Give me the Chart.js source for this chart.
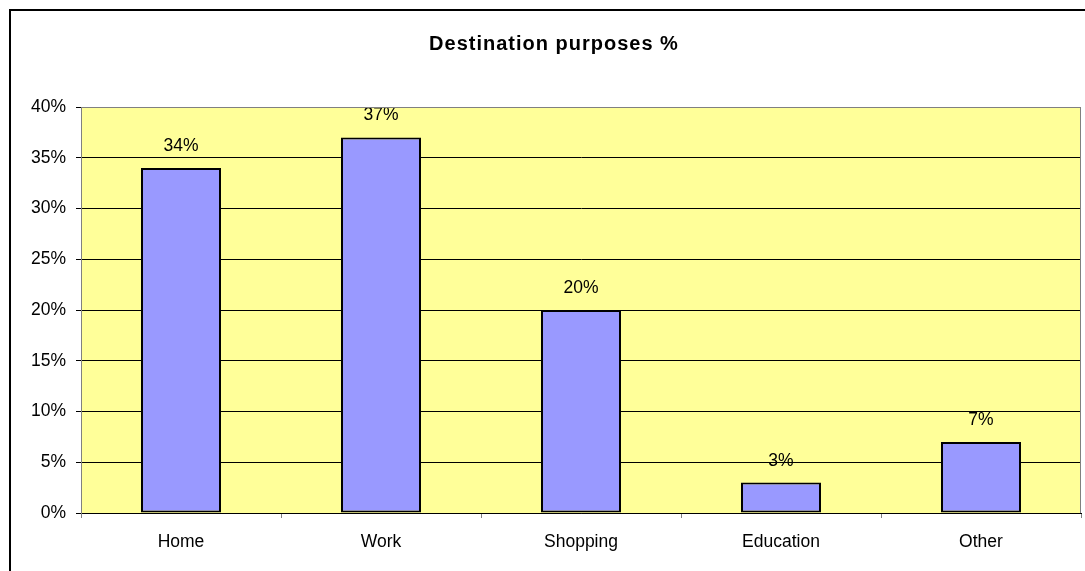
<!DOCTYPE html>
<html>
<head>
<meta charset="utf-8">
<title>Destination purposes %</title>
<script src="https://cdn.jsdelivr.net/npm/chart.js@4.4.1/dist/chart.umd.min.js"></script>
<style>
  html, body { margin: 0; padding: 0; background: #ffffff; }
  #wrap { position: relative; width: 1085px; height: 571px; }
</style>
</head>
<body>
<div id="wrap"><canvas id="chart"></canvas></div>
<script>
// Trip destination purposes, share of all trips (%)
const chartTitle = 'Destination purposes %';
const categories = ['Home', 'Work', 'Shopping', 'Education', 'Other'];
const shares = [34, 37, 20, 3, 7];
const yTicks = [0, 5, 10, 15, 20, 25, 30, 35, 40];

const FONT = '"Liberation Sans", Arial, sans-serif';

// Pale yellow plot background with grey frame, black outer frame and the heading
const framePlugin = {
  id: 'frame',
  beforeDraw(chart) {
    const { ctx, chartArea: a } = chart;
    ctx.save();
    ctx.fillStyle = '#FFFF99';
    ctx.fillRect(a.left, a.top, a.right - a.left, a.bottom - a.top);
    ctx.restore();
  },
  afterDraw(chart) {
    const { ctx, chartArea: a } = chart;
    ctx.save();
    ctx.strokeStyle = '#808080';
    ctx.lineWidth = 1;
    ctx.beginPath();
    ctx.moveTo(a.left, a.top + 0.5);
    ctx.lineTo(a.right - 0.5, a.top + 0.5);
    ctx.lineTo(a.right - 0.5, a.bottom);
    ctx.stroke();
    ctx.strokeStyle = '#000000';
    ctx.lineWidth = 2;
    ctx.strokeRect(10, 10, 3000, 3000);

    // heading, centred on the full (wider) chart frame
    ctx.font = 'bold 20px ' + FONT;
    if ('letterSpacing' in ctx) ctx.letterSpacing = '1px';
    ctx.fillStyle = '#000000';
    ctx.textAlign = 'center';
    ctx.textBaseline = 'middle';
    ctx.fillText(chartTitle, 554, 44);
    ctx.restore();
  }
};

// Value labels above each bar
const valueLabels = {
  id: 'valueLabels',
  afterDatasetsDraw(chart) {
    const { ctx } = chart;
    const meta = chart.getDatasetMeta(0);
    ctx.save();
    ctx.font = '17.5px ' + FONT;
    ctx.fillStyle = '#000000';
    ctx.textAlign = 'center';
    ctx.textBaseline = 'alphabetic';
    meta.data.forEach((bar, i) => {
      ctx.fillText(shares[i] + '%', bar.x, bar.y - 17);
    });
    ctx.restore();
  }
};

new Chart(document.getElementById('chart'), {
  type: 'bar',
  data: {
    labels: categories,
    datasets: [{
      data: shares,
      backgroundColor: '#9999FF',
      borderColor: '#000000',
      borderWidth: 2,
      borderSkipped: false,
      categoryPercentage: 1,
      barPercentage: 0.4
    }]
  },
  options: {
    responsive: true,
    maintainAspectRatio: false,
    animation: false,
    layout: { padding: { left: 0, right: 4, top: 107, bottom: 0 } },
    plugins: {
      legend: { display: false },
      tooltip: { enabled: false },
      title: { display: false }
    },
    scales: {
      x: {
        offset: true,
        grid: {
          offset: true,
          drawOnChartArea: false,
          drawTicks: true,
          tickLength: 5,
          tickColor: '#808080'
        },
        border: { color: '#000000', width: 1 },
        ticks: {
          color: '#000000',
          padding: 14,
          font: { family: FONT, size: 17.5 }
        },
        afterFit(scale) { scale.height = 58; }
      },
      y: {
        min: 0,
        max: 40,
        afterBuildTicks(scale) { scale.ticks = yTicks.map(v => ({ value: v })); },
        grid: {
          color: ctx => (ctx.tick && ctx.tick.value === 40) ? '#808080' : '#000000',
          tickColor: '#000000',
          tickLength: 5,
          lineWidth: 1
        },
        border: { color: '#808080', width: 1 },
        ticks: {
          color: '#000000',
          padding: 10,
          font: { family: FONT, size: 17.5 },
          callback: v => v + '%'
        },
        afterFit(scale) { scale.width = 81; }
      }
    }
  },
  plugins: [framePlugin, valueLabels]
});
</script>
</body>
</html>
